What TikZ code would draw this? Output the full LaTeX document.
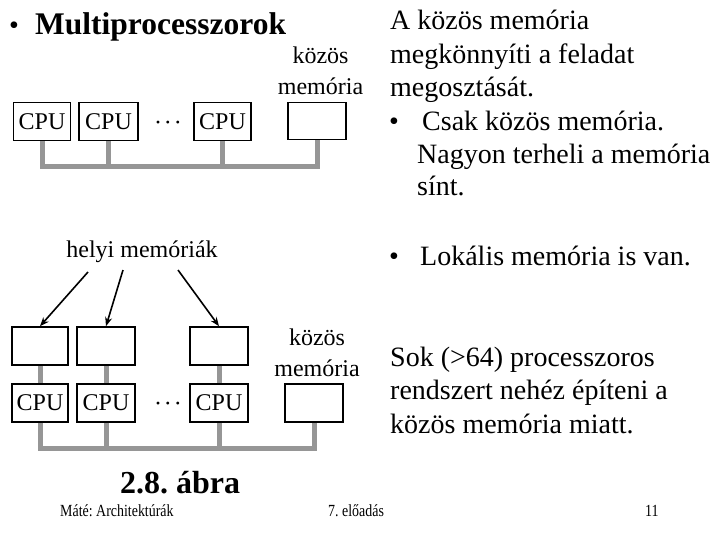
\documentclass[tikz,border=0pt]{standalone}
\usepackage{fontspec}
\setmainfont{Liberation Serif}
\newfontfamily\footfont[FakeStretch=0.82]{Liberation Serif}
\usetikzlibrary{arrows.meta}
\definecolor{busgray}{RGB}{150,150,150}
\frenchspacing
\begin{document}
\begin{tikzpicture}[x=1pt,y=-1pt,
  box/.style={draw, line width=1.6pt, minimum width=57pt, minimum height=38pt, inner sep=0pt, font=\fontsize{24}{24}\selectfont},
  bus/.style={draw=busgray, line width=5pt},
  lbl/.style={font=\fontsize{24}{24}\selectfont, inner sep=0pt, anchor=base},
  big/.style={font=\fontsize{28}{28}\selectfont, inner sep=0pt, anchor=base west},
  foot/.style={font=\footfont\fontsize{17}{17}\selectfont, inner sep=0pt, anchor=base west},
  dotsn/.style={font=\fontsize{24}{24}\selectfont, inner sep=0pt},
  ptr/.style={line width=1.6pt, -{Stealth[length=9pt,width=7pt]}},
]
\useasboundingbox (0,0) rectangle (720,540);

% title
\node[big, anchor=base] (tb) at (14,35) {•};
\node[big, font=\fontsize{31.5}{31.5}\selectfont\bfseries] (title) at (35,35) {Multiprocesszorok};

% top diagram
\node[box] (c1) at (42,121.5) {CPU};
\node[box, minimum width=59pt] (c2) at (108.5,121.5) {CPU};
\node[dotsn] (d1) at (168,126) {·\kern2pt·\kern2pt·};
\node[box] (c3) at (222.5,121.5) {CPU};
\node[box, minimum width=58pt, minimum height=37pt] (m1) at (317,121) {};
\node[lbl] (k1) at (320.5,64) {közös};
\node[lbl] (k2) at (320.5,95) {memória};
\coordinate (bt) at (0,167);
\draw[bus] (c1.south) |- (m1.south |- bt) -- (m1.south);
\draw[bus] (c2.south) -- (c2.south |- bt);
\draw[bus] (c3.south) -- (c3.south |- bt);

% right text, top
\node[big] (r1) at (390,30) {A közös memória};
\node[big] (r2) at (390,63.5) {megkönnyíti a feladat};
\node[big] (r3) at (390,97) {megosztását.};
\node[big] (r4b) at (389,131) {•};
\node[big] (r4) at (422,131) {Csak közös memória.};
\node[big] (r5) at (417,164) {Nagyon terheli a memória};
\node[big] (r6) at (417,196) {sínt.};

% bottom diagram
\node[lbl] (hm) at (142,257) {helyi memóriák};
\node[box, minimum width=56pt] (l1) at (40,346) {};
\node[box, minimum width=58pt] (l2) at (106,346) {};
\node[box, minimum width=58pt] (l3) at (219,346) {};
\node[box, minimum width=56pt] (c4) at (40,403) {CPU};
\node[box, minimum width=58pt] (c5) at (106,403) {CPU};
\node[dotsn] (d2) at (168,407) {·\kern2pt·\kern2pt·};
\node[box, minimum width=58pt] (c6) at (219,403) {CPU};
\node[box, minimum width=58pt] (m2) at (314,403) {};
\node[lbl] (k3) at (317,345) {közös};
\node[lbl] (k4) at (317,376) {memória};

\coordinate (a1) at (88,272);
\coordinate (a2) at (123,270);
\coordinate (a3) at (178,270);
\draw[ptr] (a1) -- (l1.north);
\draw[ptr] (a2) -- (l2.north);
\draw[ptr] (a3) -- (l3.north);

\draw[bus] (l1.south) -- (c4.north);
\draw[bus] (l2.south) -- (c5.north);
\draw[bus] (l3.south) -- (c6.north);
\coordinate (bb) at (0,448);
\draw[bus] (c4.south) |- (m2.south |- bb) -- (m2.south);
\draw[bus] (c5.south) -- (c5.south |- bb);
\draw[bus] (c6.south) -- (c6.south |- bb);

% right text, bottom
\node[big] (lb) at (389,265) {•};
\node[big] (lk) at (420,265) {Lokális memória is van.};
\node[big] (s1) at (390,366) {Sok (>64) processzoros};
\node[big] (s2) at (390,399.5) {rendszert nehéz építeni a};
\node[big] (s3) at (390,433) {közös memória miatt.};

% caption and footer
\node[big, anchor=base, font=\fontsize{32}{32}\selectfont\bfseries] (cap) at (180,493) {2.8. ábra};
\node[foot] (f1) at (60,516) {Máté: Architektúrák};
\node[foot] (f2) at (328,516) {7. előadás};
\node[foot] (f3) at (645,516) {11};
\end{tikzpicture}
\end{document}
